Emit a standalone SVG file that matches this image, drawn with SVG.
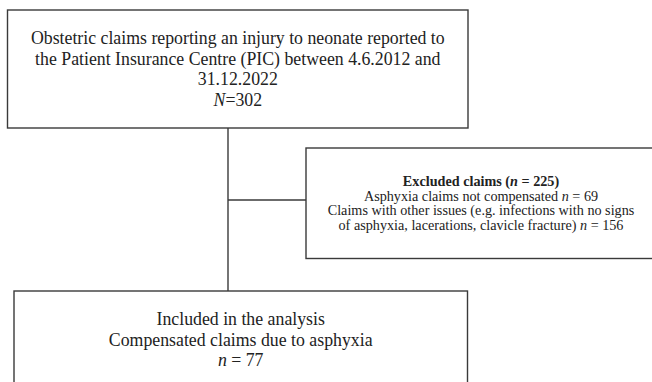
<svg xmlns="http://www.w3.org/2000/svg" width="652" height="382" viewBox="0 0 652 382">
<style>
.box{fill:#fff;stroke:#3a3a3a;stroke-width:1.4}
.big{font-family:"Liberation Serif","Times New Roman",serif;font-size:17.8px;fill:#222;text-anchor:middle}
.sm{font-family:"Liberation Serif","Times New Roman",serif;font-size:14.2px;fill:#222;text-anchor:middle}
.conn{stroke:#3a3a3a;stroke-width:1.4;fill:none}
</style>
<rect width="652" height="382" fill="#fff"/>
<g id="connectors">
<line class="conn" x1="228" y1="128" x2="228" y2="291"/>
<line class="conn" x1="228" y1="200" x2="306" y2="200"/>
</g>
<g id="top">
<rect class="box" x="7.5" y="10" width="460.5" height="118"/>
<text class="big" x="237.8" y="44">Obstetric claims reporting an injury to neonate reported to</text>
<text class="big" x="237.8" y="64.5">the Patient Insurance Centre (PIC) between 4.6.2012 and</text>
<text class="big" x="237.8" y="85">31.12.2022</text>
<text class="big" x="237.8" y="105.5"><tspan font-style="italic">N</tspan>=302</text>
</g>
<g id="excluded">
<rect class="box" x="306" y="148" width="360" height="110.5"/>
<text class="sm" x="481" y="186" font-weight="bold">Excluded claims (<tspan font-style="italic">n</tspan> = 225)</text>
<text class="sm" x="481" y="200.5">Asphyxia claims not compensated <tspan font-style="italic">n</tspan> = 69</text>
<text class="sm" x="481" y="215">Claims with other issues (e.g. infections with no signs</text>
<text class="sm" x="481" y="229.5">of asphyxia, lacerations, clavicle fracture) <tspan font-style="italic">n</tspan> = 156</text>
</g>
<g id="included">
<rect class="box" x="14" y="291" width="453.5" height="120"/>
<text class="big" x="240.7" y="325">Included in the analysis</text>
<text class="big" x="240.7" y="345.5">Compensated claims due to asphyxia</text>
<text class="big" x="240.7" y="366"><tspan font-style="italic">n</tspan> = 77</text>
</g>
</svg>
